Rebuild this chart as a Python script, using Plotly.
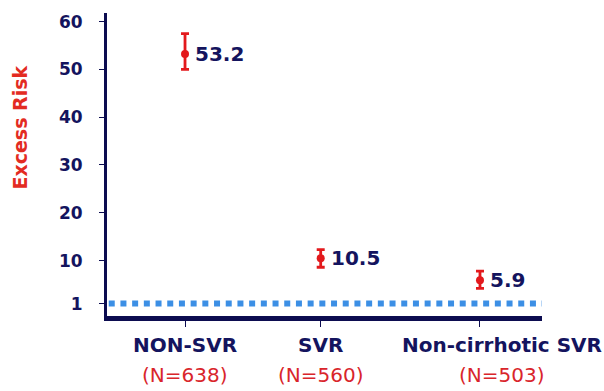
import plotly.graph_objects as go

# Excess risk by group, with confidence limits
groups = ["NON-SVR", "SVR", "Non-cirrhotic SVR"]
group_n = ["(N=638)", "(N=560)", "(N=503)"]
excess_risk = [53.2, 10.5, 5.9]
ci_upper = [57.5, 12.3, 7.8]
ci_lower = [50.0, 8.6, 4.2]
y_ticks = [1, 10, 20, 30, 40, 50, 60]
reference_level = 1

# horizontal placement of the three groups on the x axis
x_pos = [1.0, 2.0, 3.174]
label_shift = [0, 0, 22]

NAVY = "#14145e"
AXIS_NAVY = "#0c0c50"
RED = "#e3191c"
TEXT_RED = "#d9252b"
BLUE = "#3c8fe5"
FONT = "DejaVu Sans"

err_plus = [u - v for u, v in zip(ci_upper, excess_risk)]
err_minus = [v - l for v, l in zip(excess_risk, ci_lower)]

fig = go.Figure()

fig.add_trace(go.Scatter(
    x=x_pos,
    y=excess_risk,
    mode="markers",
    marker=dict(color=RED, size=8, symbol="circle"),
    error_y=dict(
        type="data",
        symmetric=False,
        array=err_plus,
        arrayminus=err_minus,
        color=RED,
        thickness=2.8,
        width=4,
    ),
    showlegend=False,
    hoverinfo="skip",
))

# dotted reference line at excess risk = 1
fig.add_shape(
    type="line",
    xref="paper", x0=0.004, x1=1.0,
    yref="y", y0=reference_level, y1=reference_level,
    line=dict(color=BLUE, width=6, dash="6px,5.7px"),
    layer="above",
)

annotations = []
# value labels beside each point
for xp, v in zip(x_pos, excess_risk):
    annotations.append(dict(
        x=xp, y=v, xref="x", yref="y",
        text=f"<b>{v}</b>",
        showarrow=False,
        xanchor="left", yanchor="middle",
        xshift=8,
        font=dict(family=FONT, size=20, color=NAVY),
    ))

# group names and sample sizes under the axis
for xp, g, n, s in zip(x_pos, groups, group_n, label_shift):
    annotations.append(dict(
        x=xp, y=0, xref="x", yref="paper",
        text=f"<b>{g}</b>",
        showarrow=False,
        xanchor="center", yanchor="middle",
        xshift=s, yshift=-29,
        font=dict(family=FONT, size=20, color=NAVY),
    ))
    annotations.append(dict(
        x=xp, y=0, xref="x", yref="paper",
        text=n,
        showarrow=False,
        xanchor="center", yanchor="middle",
        xshift=s, yshift=-59,
        font=dict(family=FONT, size=20, color=TEXT_RED),
    ))

# axis title
annotations.append(dict(
    x=-0.2, y=0.622, xref="paper", yref="paper",
    text="<b>Excess Risk</b>",
    textangle=-90,
    showarrow=False,
    xanchor="center", yanchor="middle",
    font=dict(family=FONT, size=19, color="#e32b22"),
))

fig.update_layout(
    width=604,
    height=391,
    margin=dict(l=107, r=62, t=13, b=75),
    paper_bgcolor="white",
    plot_bgcolor="white",
    annotations=annotations,
    xaxis=dict(
        range=[0.425, 3.631],
        tickvals=x_pos,
        ticktext=["", "", ""],
        ticks="outside",
        ticklen=6,
        tickwidth=1,
        tickcolor=AXIS_NAVY,
        showline=True,
        linecolor=AXIS_NAVY,
        linewidth=4.5,
        showgrid=False,
        zeroline=False,
        fixedrange=True,
    ),
    yaxis=dict(
        range=[-1.6, 61.8],
        tickvals=y_ticks,
        ticktext=[f"<b>{t}</b>" for t in y_ticks],
        ticks="outside",
        ticklen=5,
        tickwidth=1,
        tickcolor=AXIS_NAVY,
        ticklabelstandoff=13,
        tickfont=dict(family=FONT, size=17, color=NAVY),
        showline=True,
        linecolor=AXIS_NAVY,
        linewidth=3,
        showgrid=False,
        zeroline=False,
        fixedrange=True,
    ),
)

fig.write_html("out.html")
